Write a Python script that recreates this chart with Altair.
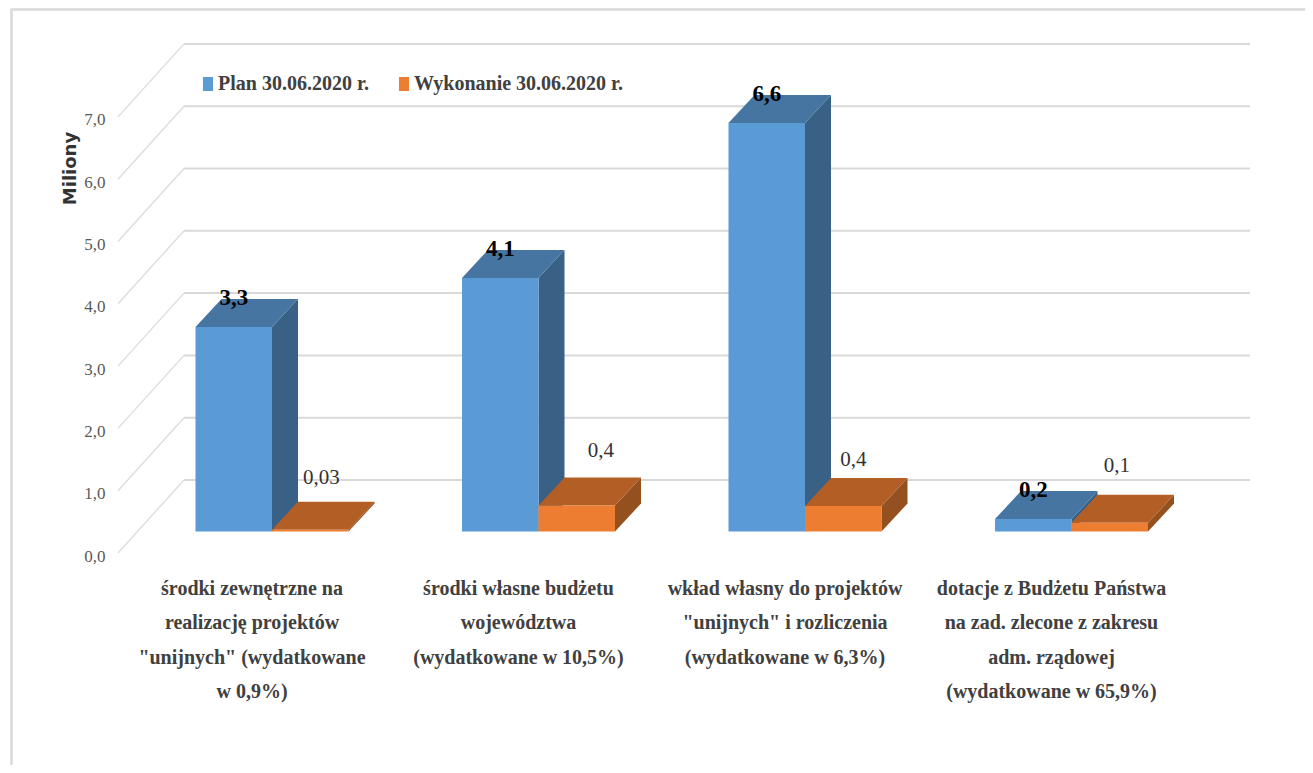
import altair as alt
import pandas as pd

categories = [
    'środki zewnętrzne na\nrealizację projektów\n"unijnych"  (wydatkowane\nw 0,9%)',
    'środki własne budżetu\nwojewództwa\n(wydatkowane w 10,5%)',
    'wkład własny do projektów\n"unijnych" i rozliczenia\n(wydatkowane w 6,3%)',
    'dotacje z Budżetu Państwa\nna zad. zlecone z zakresu\nadm. rządowej\n(wydatkowane w 65,9%)',
]
plan = [3.3, 4.09, 6.59, 0.2]
wykonanie = [0.03, 0.42, 0.41, 0.14]
plan_labels = ["3,3", "4,1", "6,6", "0,2"]
wykonanie_labels = ["0,03", "0,4", "0,4", "0,1"]
tick_values = [0, 1, 2, 3, 4, 5, 6, 7]
series_names = ["Plan 30.06.2020 r.", "Wykonanie 30.06.2020 r."]

# layout of the fake 3-D box (pixels of the page)
W, H = 1297, 757
PITCH, PXU = 266.5, 62.0
LEFT, BASE = 195.5, 531.5
BAR_W = 76.5 / PITCH
DX, DY = 26 / PITCH, 28 / PXU
X_DOM = [(8 - LEFT) / PITCH, (8 + W - LEFT) / PITCH]
Y_DOM = [(BASE - 8 - H) / PXU, (BASE - 8) / PXU]
GRID_K = 62.3 / PXU
BACK_Y = (BASE - 480) / PXU
FRONT_Y = (BASE - 553) / PXU
BACK_X0, BACK_X1 = (184 - LEFT) / PITCH, (1250 - LEFT) / PITCH
FRONT_X = (118 - LEFT) / PITCH

xs = alt.Scale(domain=X_DOM, range=[0, W], nice=False, zero=False)
ys = alt.Scale(domain=Y_DOM, range=[H, 0], nice=False, zero=False)
X = alt.X("x:Q", scale=xs, axis=None)
Y = alt.Y("y:Q", scale=ys, axis=None)

GREY = "#d9d9d9"
TXT = "#404040"
SERIF = "Liberation Serif"

# frame of the embedded picture
frame = [
    alt.Chart(pd.DataFrame({"a": [0]})).mark_rule(color=GREY, strokeWidth=2.5).encode(
        x=alt.value(3.5), y=alt.value(1.5), y2=alt.value(H)),
    alt.Chart(pd.DataFrame({"a": [0]})).mark_rule(color=GREY, strokeWidth=2.5).encode(
        x=alt.value(2.5), x2=alt.value(W), y=alt.value(1.5)),
]

# gridlines: back wall + diagonal on the side wall
back = pd.DataFrame([{"x": BACK_X0, "x2": BACK_X1, "y": v * GRID_K + BACK_Y} for v in tick_values])
grid_back = alt.Chart(back).mark_rule(color=GREY, strokeWidth=2).encode(X, x2="x2:Q", y=Y)
diag = []
for v in tick_values:
    diag.append({"tick": v, "x": FRONT_X, "y": v * GRID_K + FRONT_Y, "o": 0})
    diag.append({"tick": v, "x": BACK_X0, "y": v * GRID_K + BACK_Y, "o": 1})
grid_diag = alt.Chart(pd.DataFrame(diag)).mark_line(color="#dcdcdc", strokeWidth=1.3).encode(
    X, Y, detail="tick:N", order="o:Q")


def side_rows(values, s):
    rows = []
    for g, v in enumerate(values):
        x1 = g + (s + 1) * BAR_W
        rows.append({"g": g, "x": x1, "y": 0, "y2": v})
        rows.append({"g": g, "x": x1 + DX, "y": DY, "y2": v + DY})
    return pd.DataFrame(rows)


def top_rows(values, s):
    rows = []
    for g, v in enumerate(values):
        x0 = g + s * BAR_W
        x1 = x0 + BAR_W
        rows += [
            {"g": g, "x": x0, "y": v, "y2": v},
            {"g": g, "x": x0 + DX, "y": v, "y2": v + DY},
            {"g": g, "x": x1, "y": v, "y2": v + DY},
            {"g": g, "x": x1 + DX, "y": v + DY, "y2": v + DY},
        ]
    return pd.DataFrame(rows)


def face(df, color):
    return alt.Chart(df).mark_area(color=color, interpolate="linear", opacity=1).encode(
        X, Y, y2="y2:Q", detail="g:N")


fronts = pd.DataFrame(
    [{"series": series_names[0], "x": g, "x2": g + BAR_W, "y": v, "y0": 0} for g, v in enumerate(plan)]
    + [{"series": series_names[1], "x": g + BAR_W, "x2": g + 2 * BAR_W, "y": v, "y0": 0} for g, v in enumerate(wykonanie)]
)
front_layer = alt.Chart(fronts).mark_rect(opacity=1).encode(
    X, x2="x2:Q", y=Y, y2="y0:Q",
    color=alt.Color(
        "series:N",
        scale=alt.Scale(domain=series_names, range=["#5B9BD5", "#ED7D31"]),
        legend=alt.Legend(
            title=None, orient="none", legendX=190, legendY=66, direction="horizontal",
            symbolType="M-0.72,-1H0.72V1H-0.72Z", symbolSize=196, symbolOpacity=1,
            symbolStrokeWidth=0, labelFont=SERIF, labelFontSize=20, labelFontWeight="bold",
            labelColor=TXT, labelLimit=300, labelOffset=0, columnPadding=25, padding=0,
        ),
    ),
)

# data labels, hand-placed in the source as well
plan_txt = pd.DataFrame({
    "x": [g + BAR_W / 2 for g in range(4)],
    "y": [v + 29 / PXU for v in plan],
    "t": plan_labels,
})
nudge_x = [11, 24, 10, 7]
nudge_y = [52, 54, 46, 57]
wyk_txt = pd.DataFrame({
    "x": [g + 1.5 * BAR_W + n / PITCH for g, n in enumerate(nudge_x)],
    "y": [v + n / PXU for v, n in zip(wykonanie, nudge_y)],
    "t": wykonanie_labels,
})
plan_lab = alt.Chart(plan_txt).mark_text(font=SERIF, fontSize=23, fontWeight="bold", color="#000000").encode(X, Y, text="t:N")
wyk_lab = alt.Chart(wyk_txt).mark_text(font=SERIF, fontSize=21, color="#333333").encode(X, Y, text="t:N")

cat_df = pd.DataFrame({"x": [g + BAR_W - 20 / PITCH for g in range(4)], "t": categories})
cat_lab = alt.Chart(cat_df).mark_text(
    font=SERIF, fontSize=20, fontWeight="bold", color=TXT, lineBreak="\n", lineHeight=34.3,
    baseline="top", align="center",
).encode(X, y=alt.value(571), text="t:N")

main = alt.layer(
    *frame, grid_back, grid_diag,
    face(side_rows(plan, 0), "#396186"), face(top_rows(plan, 0), "#4575A0"),
    face(side_rows(wykonanie, 1), "#94501F"), face(top_rows(wykonanie, 1), "#B25E25"),
    front_layer, plan_lab, wyk_lab, cat_lab,
)

# value axis sits on the front edge of the side wall, so it has its own vertical scale
axis_layer = alt.Chart(pd.DataFrame({"v": tick_values})).mark_point(opacity=0).encode(
    y=alt.Y(
        "v:Q",
        scale=alt.Scale(domain=[548 / 62.3, (548 - H) / 62.3], range=[0, H], nice=False, zero=False),
        axis=alt.Axis(
            orient="left", offset=-97, values=tick_values, grid=False, domain=False, ticks=False,
            labelPadding=0, labelFont=SERIF, labelFontSize=17, labelColor="#595959",
            labelExpr="replace(format(datum.value, '.1f'), '.', ',')",
            title="Miliony", titleFont="DejaVu Sans", titleFontSize=18, titleFontWeight="bold",
            titleColor="#333333", titleAngle=270, titleAlign="center", titleBaseline="middle",
            titleX=-35, titleY=160,
        ),
    )
)

chart = alt.layer(main, axis_layer).resolve_scale(y="independent").properties(
    width=W, height=H, padding=0, autosize=alt.AutoSizeParams(type="none"),
    background="white",
).configure_view(stroke=None)

chart.save("out.html", embed_options={"renderer": "svg", "actions": False})
